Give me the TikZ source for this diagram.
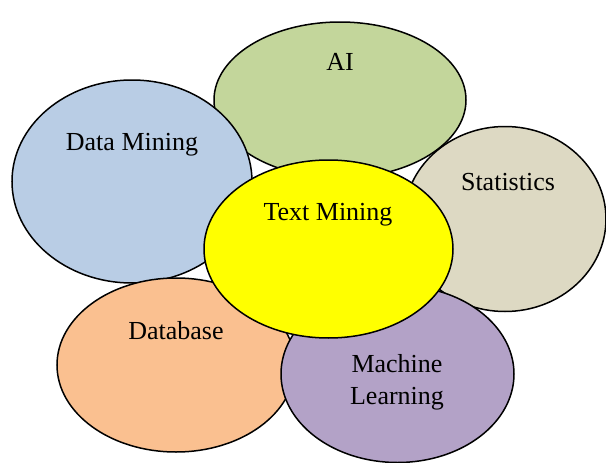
\documentclass[tikz,border=0pt]{standalone}
\usepackage{fontspec}
\setmainfont{Liberation Serif}
\usetikzlibrary{shapes.geometric}
\definecolor{aiC}{HTML}{C3D69B}
\definecolor{dmC}{HTML}{B9CDE5}
\definecolor{stC}{HTML}{DDD9C3}
\definecolor{dbC}{HTML}{FAC090}
\definecolor{mlC}{HTML}{B3A2C7}
\definecolor{tmC}{HTML}{FFFF00}
\tikzset{
  blob/.style={ellipse, draw=black, line width=1.5pt, inner sep=0pt},
  lbl/.style={font=\fontsize{26}{32}\selectfont, align=center, inner sep=0pt},
}
\begin{document}
\begin{tikzpicture}[x=1pt,y=-1pt]
\useasboundingbox (0,0) rectangle (606,463);
\node[blob, fill=aiC, minimum width=252pt, minimum height=156pt] (ai) at (340,100) {};
\node[blob, fill=dmC, minimum width=240pt, minimum height=203pt] (dm) at (132,181.5) {};
\node[blob, fill=stC, minimum width=202pt, minimum height=185pt] (st) at (505,219) {};
\node[blob, fill=dbC, minimum width=238pt, minimum height=174pt] (db) at (176,365) {};
\node[blob, fill=mlC, minimum width=233pt, minimum height=177pt] (ml) at (397.5,374) {};
\node[blob, fill=tmC, minimum width=249pt, minimum height=178pt] (tm) at (328.5,249) {};
\node[lbl] (tai) at (340,62) {AI};
\node[lbl] (tdm) at (132,145) {Data Mining};
\node[lbl] (tst) at (508,182) {Statistics};
\node[lbl] (ttm) at (328,215) {Text Mining};
\node[lbl] (tdb) at (176,331) {Database};
\node[lbl] (tml) at (397,382) {Machine\\Learning};
\end{tikzpicture}
\end{document}
